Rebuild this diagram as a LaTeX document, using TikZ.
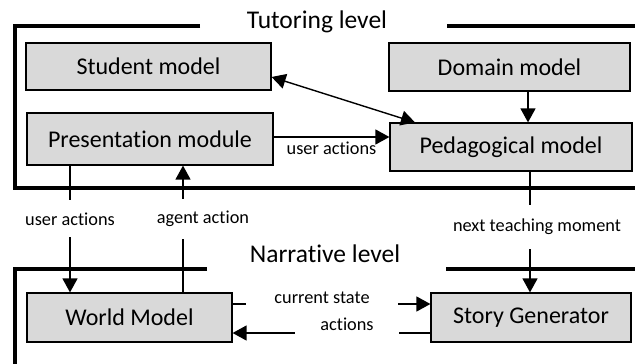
\documentclass[tikz,border=0pt]{standalone}
\usepackage{fontspec}
\setmainfont{Carlito}[Ligatures=NoCommon]
\usetikzlibrary{arrows.meta}

\begin{document}
\begin{tikzpicture}
  [x=1pt, y=-1pt, >={Triangle[length=14pt,width=15pt]},
   box/.style={draw, line width=1.2pt, fill=black!15, inner sep=0pt,
     font=\fontsize{24}{28}\selectfont},
   frame/.style={line width=4pt},
   conn/.style={line width=1.4pt},
   title/.style={anchor=base, font=\fontsize{25.5}{30}\selectfont},
   lbl/.style={font=\fontsize{18.3}{21}\selectfont, inner sep=1pt},
   gaplbl/.style={lbl, fill=white, inner xsep=3pt, inner ysep=12pt}]
  \useasboundingbox (0,0) rectangle (635,364);

  \draw[frame] (200,26) -- (15,26) -- (15,187.5) -- (640,187.5);
  \draw[frame] (447,26) -- (640,26);
  \draw[frame] (207,269) -- (15,269) -- (15,370);
  \draw[frame] (446,269) -- (640,269);

  \node[title] (tut) at (317,28) {Tutoring level};
  \node[title] (nar) at (325,262) {Narrative level};

  \node[box, minimum width=245pt, minimum height=47pt] (stu) at (148.5,66.5) {Student model};
  \node[box, minimum width=246pt, minimum height=52pt] (pres) at (150,139) {Presentation module};
  \node[box, minimum width=241pt, minimum height=48pt] (dom) at (509.5,67) {Domain model};
  \node[box, minimum width=242pt, minimum height=48pt] (ped) at (511,147) {Pedagogical model};
  \node[box, minimum width=205pt, minimum height=49pt] (world) at (129.5,317.5) {World Model};
  \node[box, minimum width=200pt, minimum height=49pt] (story) at (531,317.5) {Story Generator};

  \draw[conn, <->] (stu.east |- 0,77) -- (ped.north -| 415,0);
  \draw[conn, ->] (dom.south -| 528,0) -- (ped.north -| 528,0);
  \draw[conn, ->] (pres.east |- 0,137) -- node[lbl, below=3pt] {user actions} (ped.west |- 0,137);
  \draw[conn, ->] (pres.south -| 70,0) -- node[gaplbl, pos=0.42] {user actions} (world.north -| 70,0);
  \draw[conn, ->] (world.north -| 183,0) -- node[gaplbl, pos=0.58, xshift=20pt] {agent action} (pres.south -| 183,0);
  \draw[conn, ->] (ped.south -| 530,0) -- node[gaplbl, inner ysep=14pt, pos=0.46, xshift=7pt] {next teaching moment} (story.north -| 530,0);
  \draw[conn, ->] (world.east |- 0,304) -- node[lbl, fill=white, minimum width=152pt, minimum height=20pt, xshift=-9.5pt, yshift=6pt] {current state} (story.west |- 0,304);
  \draw[conn, <-] (world.east |- 0,333) -- node[lbl, fill=white, minimum width=104pt, minimum height=26pt, xshift=15.5pt, yshift=9pt] {actions} (story.west |- 0,333);
\end{tikzpicture}
\end{document}
